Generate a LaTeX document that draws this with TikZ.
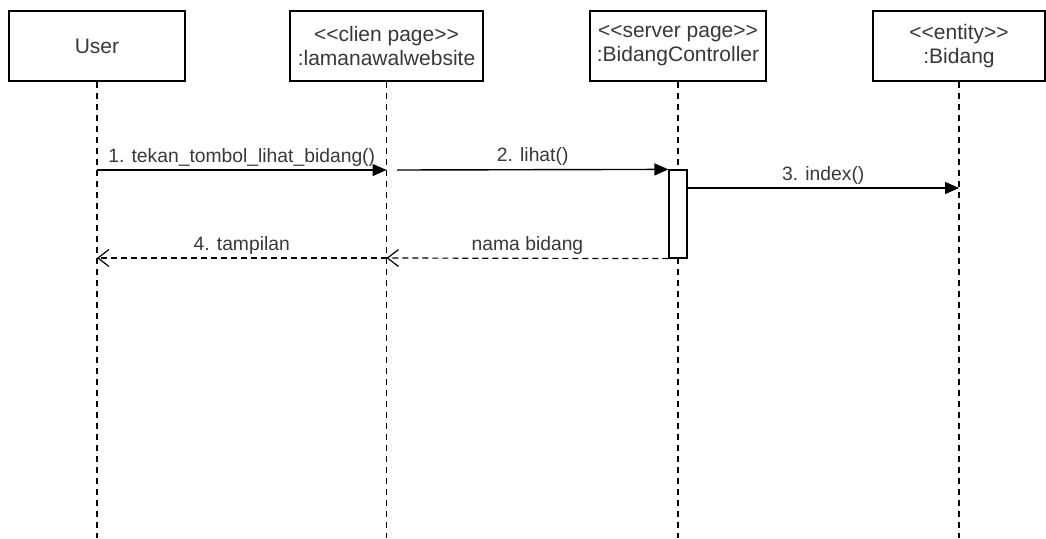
\documentclass[tikz,border=0pt]{standalone}
\usepackage{fontspec}
\setmainfont{Liberation Sans}
\usetikzlibrary{arrows.meta}
% stereotype brackets, kept as two separate characters
\newcommand\stereo[1]{<\kern0pt<#1>\kern0pt>}
\begin{document}
\begin{tikzpicture}[x=1pt,y=-1pt,
  head/.style={draw=black, line width=1.2pt, fill=white, minimum height=70pt,
    inner sep=0pt, align=center, font=\fontsize{21}{24}\selectfont, text=black!78},
  life/.style={line width=1.2pt, dash pattern=on 6pt off 5pt},
  act/.style={draw=black, line width=1.2pt, fill=white, minimum width=18pt,
    minimum height=88pt, inner sep=0pt},
  call/.style={line width=1.4pt, -{Triangle[length=14pt,width=12pt]}},
  reply/.style={line width=1.2pt, dash pattern=on 6pt off 4pt,
    -{Straight Barb[length=11pt,width=17pt,line width=1.2pt]}},
  lbl/.style={midway, anchor=base, yshift=8pt, inner sep=0pt,
    font=\fontsize{19.3}{22}\selectfont, text=black!78}
]
\useasboundingbox (0,0) rectangle (1046,538);

% participants
\node[head, minimum width=176pt] (user) at (97,46) {User};
\node[head, minimum width=193pt] (page) at (386.5,46) {\stereo{clien page}\\:lamanawalwebsite};
\node[head, minimum width=176pt] (ctrl) at (678,46) {\stereo{server page}\\:BidangController};
\node[head, minimum width=172pt] (ent)  at (959,46) {\stereo{entity}\\:Bidang};

% lifeline ends
\coordinate (userEnd) at (97,538);
\coordinate (pageEnd) at (386.5,538);
\coordinate (ctrlEnd) at (678,538);
\coordinate (entEnd)  at (959,538);

\draw[life] (user.south) -- (userEnd);
\draw[life] (page.south) -- (pageEnd);
\draw[life] (ctrl.south) -- (ctrlEnd);
\draw[life] (ent.south)  -- (entEnd);

% activation of the controller
\node[act] (act) at (678,214) {};

% message points on the lifelines
\coordinate (u1) at (97,170);
\coordinate (p1) at (386.5,170);
\coordinate (p2) at (397,170);
\coordinate (e3) at (959,188);
\coordinate (a3) at (act.east |- e3);
\coordinate (p4) at (386.5,258);
\coordinate (u4) at (97,258);

% messages
\draw[call] (u1) -- node[lbl]{1. tekan\_tombol\_lihat\_bidang()} (p1);
\draw[call] (p2) -- node[lbl]{2. lihat()} (act.north west);
\draw[call] (a3) -- node[lbl]{3. index()} (e3);
\draw[reply] (act.south west) -- node[lbl]{nama bidang} (p4);
\draw[reply] (p4) -- node[lbl]{4. tampilan} (u4);
\end{tikzpicture}
\end{document}
